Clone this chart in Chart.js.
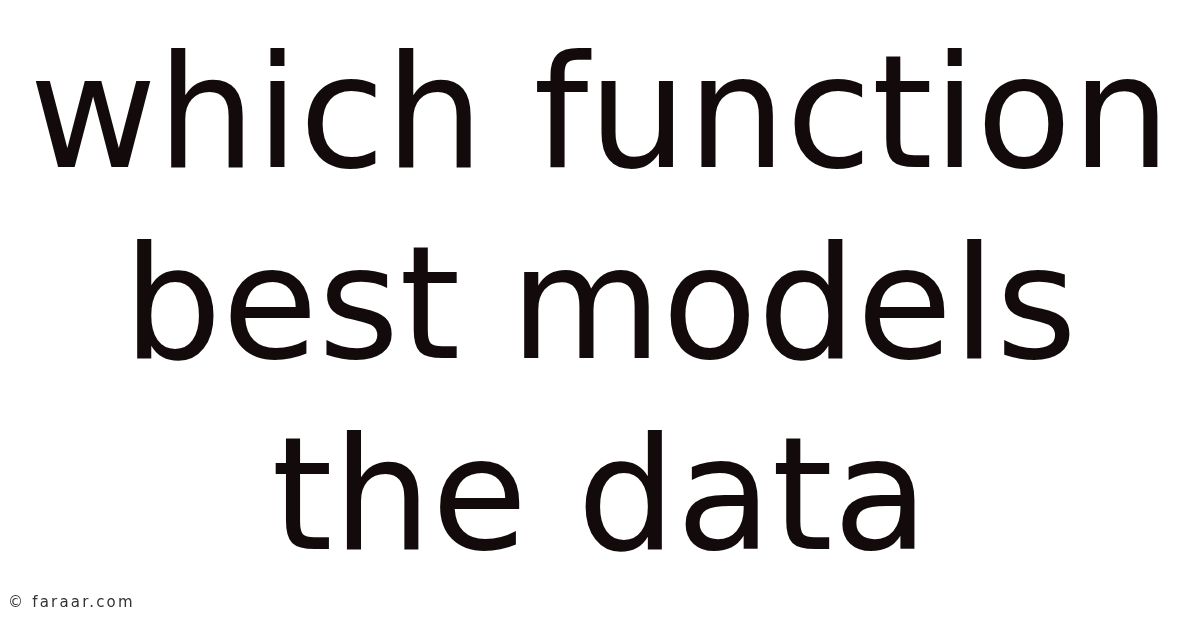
<!DOCTYPE html>
<html>
<head>
<meta charset="utf-8">
<script src="https://cdn.jsdelivr.net/npm/chart.js@4.4.1/dist/chart.umd.min.js"></script>
<style>
  html, body { margin: 0; padding: 0; background: #ffffff; }
  #wrap { width: 1200px; height: 628px; position: relative; }
</style>
</head>
<body>
<div id="wrap"><canvas id="c" width="1200" height="628"></canvas></div>
<script>
const titleLines = ['which function', 'best models', 'the data'];
const watermark = '\u00A9 faraar.com';
const categories = [];
const values = [];

const watermarkPlugin = {
  id: 'watermark',
  afterDraw(chart) {
    const ctx = chart.ctx;
    ctx.save();
    ctx.font = '15px "DejaVu Sans"';
    ctx.letterSpacing = '2.2px';
    ctx.fillStyle = '#333333';
    ctx.textBaseline = 'alphabetic';
    ctx.textAlign = 'left';
    ctx.fillText(watermark, 8, 607);
    ctx.restore();
  }
};

new Chart(document.getElementById('c'), {
  type: 'line',
  data: { labels: categories, datasets: [{ data: values }] },
  options: {
    responsive: false,
    animation: false,
    devicePixelRatio: 1,
    layout: { padding: 0 },
    plugins: {
      legend: { display: false },
      tooltip: { enabled: false },
      title: {
        display: true,
        text: titleLines,
        color: '#130b0b',
        font: { family: '"DejaVu Sans"', size: 156, weight: 'normal', lineHeight: 1.224 },
        padding: { top: 31, bottom: 0 }
      }
    },
    scales: { x: { display: false }, y: { display: false } }
  },
  plugins: [watermarkPlugin]
});
</script>
</body>
</html>
